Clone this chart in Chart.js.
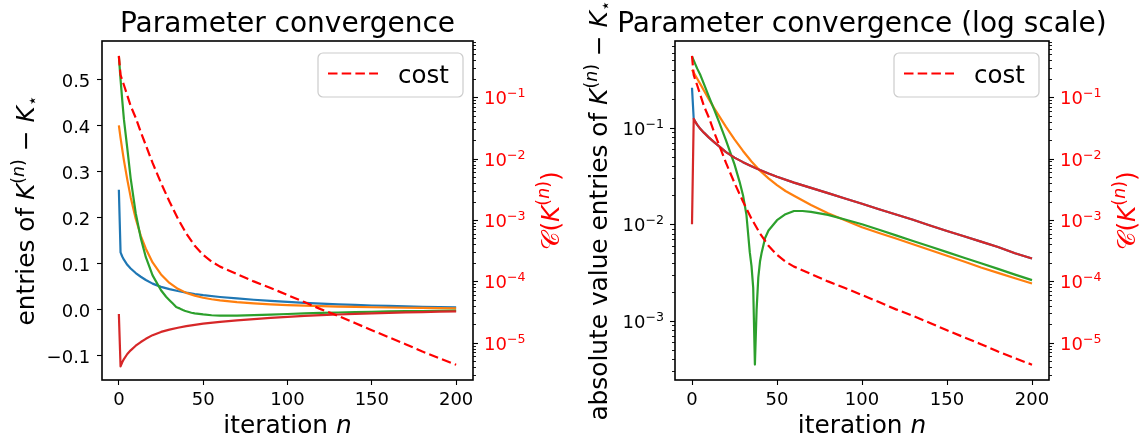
<!DOCTYPE html>
<html><head><meta charset="utf-8">
<script src="https://cdn.jsdelivr.net/npm/chart.js@4/dist/chart.umd.min.js"></script>
<style>
html,body{margin:0;padding:0;background:#fff;}
#wrap{position:relative;width:1145px;height:444px;overflow:hidden;}
canvas{position:absolute;top:0;}
</style></head><body>
<div id="wrap">
<canvas id="c1" width="572" height="444" style="left:0;width:572px;height:444px"></canvas>
<canvas id="c2" width="573" height="444" style="left:572px;width:573px;height:444px"></canvas>
</div>
<script>
// ---------------- data ----------------
const nK = [0,1,2,3,5,7,10,13,16,20,25,30,35,40,45,50,60,70,80,90,100,110,120,130,140,150,160,170,180,190,200];
const blueK = [0.26,0.124,0.115,0.108,0.097,0.089,0.079,0.071,0.064,0.056,0.049,0.044,0.040,0.0365,0.0335,0.031,0.027,0.0238,0.021,0.0185,0.0163,0.0143,0.0126,0.0111,0.0097,0.0085,0.0075,0.0066,0.0058,0.0050,0.0044];
const redK = [-0.010,-0.124,-0.115,-0.108,-0.097,-0.089,-0.079,-0.071,-0.064,-0.056,-0.049,-0.044,-0.040,-0.0365,-0.0335,-0.031,-0.027,-0.0238,-0.021,-0.0185,-0.0163,-0.0143,-0.0126,-0.0111,-0.0097,-0.0085,-0.0075,-0.0066,-0.0058,-0.0050,-0.0044];
const nOrange = [0,1,2,3,5,7,10,13,16,20,25,30,35,40,45,50,55,60,70,80,90,100,110,120,130,140,150,160,170,180,190,200];
const orangeK = [0.40,0.373,0.348,0.324,0.282,0.244,0.197,0.160,0.132,0.102,0.0759,0.0575,0.0447,0.0359,0.0299,0.0254,0.0221,0.0197,0.0158,0.0130,0.0110,0.0093,0.0081,0.0071,0.0062,0.0054,0.0047,0.0041,0.00355,0.00313,0.00275,0.00243];
const nGreen = [0,1,2,3,5,7,10,13,16,20,25,28,30,32,34,35,36,37,38,39,40,41,43,45,50,55,60,65,70,80,90,100,110,120,130,140,150,160,170,180,190,200];
const greenK = [0.55,0.50,0.455,0.413,0.35,0.285,0.209,0.155,0.1135,0.074,0.0417,0.0275,0.020,0.0126,0.0051,0.0037,0.0022,0.00035,-0.0013,-0.0028,-0.0041,-0.0051,-0.0072,-0.0086,-0.011,-0.0127,-0.0137,-0.0137,-0.0134,-0.0125,-0.0112,-0.0100,-0.00875,-0.00766,-0.0067,-0.00586,-0.00513,-0.00449,-0.00393,-0.00344,-0.0030,-0.00263];
const nCost = [0,1,2,3,5,7,10,13,16,20,25,30,35,40,45,50,55,60,70,80,90,100,110,120,130,140,150,160,170,180,190,200];
const cost = [0.47,0.23,0.19,0.158,0.107,0.072,0.046,0.027,0.0165,0.0085,0.0040,0.0020,0.00105,0.00060,0.00038,0.00027,0.00021,0.000174,0.000132,0.000100,0.000078,0.000060,0.000046,0.000035,0.0000275,0.000021,0.000016,0.0000123,0.0000095,0.0000072,0.0000056,0.0000044];

const xTicks = [0,50,100,150,200];
const linTicks = [-0.1,0,0.1,0.2,0.3,0.4,0.5];
const costTicks = [1e-5,1e-4,1e-3,1e-2,1e-1];
const absTicks = [1e-3,1e-2,1e-1];
const titles = ['Parameter convergence','Parameter convergence (log scale)'];
const legendLabel = 'cost';

// ---------------- styling ----------------
const FF = "'DejaVu Sans'";
const TICK = 18, LABEL = 24.8, TITLE = 28;
const C_BLUE='#1f77b4', C_ORANGE='#ff7f0e', C_GREEN='#2ca02c', C_RED='#d62728', C_COST='#ff0000';
const LW = 2.2, DASH = [9.5,4.2];
Chart.defaults.font.family = FF;
Chart.defaults.color = '#000';

const pts = (ns, vs, f) => ns.map((n,i)=>({x:n, y: f ? f(vs[i]) : vs[i]}));
function ds(data, color, axis, dash){
  return {data, borderColor:color, backgroundColor:color, yAxisID:axis, borderWidth:LW,
    pointRadius:0, tension:0, fill:false, borderDash:dash||[], borderJoinStyle:'round', borderCapStyle:'butt'};
}

function drawRich(ctx, segs, x, y, rot, align, color){
  ctx.save();
  ctx.translate(x,y);
  if (rot) ctx.rotate(-Math.PI/2);
  ctx.textAlign='left'; ctx.textBaseline='alphabetic'; ctx.fillStyle=color;
  const fonts = segs.map(s => (s.it?'italic ':'') + s.sz + 'px ' + FF);
  const ws = segs.map((s,i)=>{ ctx.font=fonts[i]; return ctx.measureText(s.t).width; });
  const tot = ws.reduce((a,b)=>a+b,0);
  let cx = align==='center' ? -tot/2 : (align==='right' ? -tot : 0);
  segs.forEach((s,i)=>{ ctx.font=fonts[i]; ctx.fillText(s.t, cx, s.dy||0); cx+=ws[i]; });
  ctx.restore();
  return tot;
}
const sup = (t,it) => ({t, sz:LABEL*0.7, it, dy:-LABEL*0.42});
function kExpr(){ return [{t:'K',sz:LABEL,it:true}, sup('('), sup('n',true), sup(')'), {t:' \u2212 ',sz:LABEL}, {t:'K',sz:LABEL,it:true}, {t:'\u22c6',sz:LABEL*0.7,dy:LABEL*0.18}]; }
const costLabel = [{t:'\ud835\udc9e',sz:LABEL},{t:'(',sz:LABEL},{t:'K',sz:LABEL,it:true},sup('('),sup('n',true),sup(')'),{t:')',sz:LABEL}];

function minorTicks(min, max){
  const out=[];
  const k0=Math.floor(Math.log10(min)), k1=Math.ceil(Math.log10(max));
  for(let k=k0;k<=k1;k++) for(let m=2;m<=9;m++){ const v=m*Math.pow(10,k); if(v>=min&&v<=max) out.push(v); }
  return out;
}
function drawLogAxis(ctx, scale, area, side, majors, color){
  const x0 = side==='right' ? area.right : area.left, dir = side==='right'?1:-1;
  ctx.save();
  ctx.strokeStyle='#000';
  ctx.lineWidth=0.9;
  minorTicks(scale.min, scale.max).forEach(v=>{
    const y=Math.round(scale.getPixelForValue(v))+0.5;
    ctx.beginPath(); ctx.moveTo(x0,y); ctx.lineTo(x0+dir*3,y); ctx.stroke();
  });
  ctx.lineWidth=1.1;
  majors.forEach(v=>{
    const y=Math.round(scale.getPixelForValue(v))+0.5;
    ctx.beginPath(); ctx.moveTo(x0,y); ctx.lineTo(x0+dir*5,y); ctx.stroke();
    const e = Math.round(Math.log10(v));
    const segs=[{t:'10',sz:TICK},{t:(e<0?'\u2212':'')+Math.abs(e),sz:TICK*0.7,dy:-7}];
    if(side==='right') drawRich(ctx, segs, x0+11, y+6.3, false, 'left', color);
    else drawRich(ctx, segs, x0-11, y+6.3, false, 'right', color);
  });
  ctx.restore();
}
function drawLegend(ctx, area){
  const w=145,h=44,x=area.right-10-w,y=area.top+12,r=5;
  ctx.save();
  ctx.beginPath();
  ctx.moveTo(x+r,y); ctx.lineTo(x+w-r,y); ctx.arcTo(x+w,y,x+w,y+r,r); ctx.lineTo(x+w,y+h-r);
  ctx.arcTo(x+w,y+h,x+w-r,y+h,r); ctx.lineTo(x+r,y+h); ctx.arcTo(x,y+h,x,y+h-r,r);
  ctx.lineTo(x,y+r); ctx.arcTo(x,y,x+r,y,r); ctx.closePath();
  ctx.fillStyle='rgba(255,255,255,0.8)'; ctx.fill();
  ctx.strokeStyle='#cccccc'; ctx.lineWidth=1.2; ctx.stroke();
  ctx.strokeStyle=C_COST; ctx.lineWidth=LW; ctx.setLineDash(DASH);
  ctx.beginPath(); ctx.moveTo(x+10,y+20.5); ctx.lineTo(x+60,y+20.5); ctx.stroke();
  ctx.setLineDash([]);
  ctx.fillStyle='#000'; ctx.font='24.5px '+FF; ctx.textBaseline='alphabetic'; ctx.textAlign='left';
  ctx.fillText(legendLabel, x+80, y+30);
  ctx.restore();
}

function deco(cfg){
  return {
    id:'deco',
    afterDatasetsDraw(chart){
      const ctx=chart.ctx, a=chart.chartArea;
      ctx.save(); ctx.strokeStyle='#000'; ctx.lineWidth=1.6;
      ctx.strokeRect(a.left, a.top, a.right-a.left, a.bottom-a.top);
      ctx.restore();
    },
    afterDraw(chart){
      const ctx=chart.ctx, a=chart.chartArea;
      if (cfg.leftLog) drawLogAxis(ctx, chart.scales.y, a, 'left', absTicks, '#000');
      drawLogAxis(ctx, chart.scales.yc, a, 'right', costTicks, C_COST);
      drawLegend(ctx, a);
      const cx=(a.left+a.right)/2;
      drawRich(ctx, [{t:cfg.title,sz:TITLE}], cx, 31.5, false, 'center', '#000');
      drawRich(ctx, [{t:'iteration ',sz:LABEL},{t:'n',sz:LABEL,it:true}], cx, 433, false, 'center', '#000');
      const cy=(a.top+a.bottom)/2;
      drawRich(ctx, cfg.ylabel, a.left-68, cy, true, 'center', '#000');
      drawRich(ctx, costLabel, a.right+86, cy, true, 'center', C_COST);
    }
  };
}

const gridTicks = {drawOnChartArea:false, drawTicks:true, tickLength:5, tickColor:'#000', tickWidth:1.1};
const xScale = {
  type:'linear', min:-10, max:210,
  afterBuildTicks: s => { s.ticks = xTicks.map(v=>({value:v})); },
  afterFit: s => { s.height = 64; },
  grid: gridTicks,
  border:{display:false},
  ticks:{font:{size:TICK, lineHeight:1.2}, color:'#000', padding:5, maxRotation:0, minRotation:0, autoSkip:false}
};
const costScale = {type:'logarithmic', position:'right', display:false, min:Math.pow(10,-5.606), max:Math.pow(10,-0.085)};

// ---------------- left chart ----------------
new Chart(document.getElementById('c1'), {
  type:'line',
  data:{datasets:[
    ds(pts(nCost,cost), C_COST, 'yc', DASH),
    ds(pts(nK,redK), C_RED, 'y'),
    ds(pts(nGreen,greenK), C_GREEN, 'y'),
    ds(pts(nOrange,orangeK), C_ORANGE, 'y'),
    ds(pts(nK,blueK), C_BLUE, 'y')
  ]},
  options:{
    responsive:false, animation:false, devicePixelRatio:1,
    layout:{padding:{left:0,right:99,top:41,bottom:0}},
    plugins:{legend:{display:false}, tooltip:{enabled:false}},
    scales:{
      x: xScale,
      y:{type:'linear', position:'left', min:-0.1535, max:0.5835,
        afterBuildTicks: s => { s.ticks = linTicks.map(v=>({value:v})); },
        afterFit: s => { s.width = 102; },
        grid: gridTicks,
        border:{display:false},
        ticks:{font:{size:TICK, lineHeight:1.2}, color:'#000', padding:6.7, labelOffset:2.5, autoSkip:false,
          callback: v => (v<0?'\u2212':'') + Math.abs(v).toFixed(1)}},
      yc: costScale
    }
  },
  plugins:[deco({title:titles[0], leftLog:false,
    ylabel:[{t:'entries of ',sz:LABEL}].concat(kExpr())})]
});

// ---------------- right chart ----------------
const ab = v => Math.abs(v);
new Chart(document.getElementById('c2'), {
  type:'line',
  data:{datasets:[
    ds(pts(nCost,cost), C_COST, 'yc', DASH),
    ds(pts(nK,redK,ab), C_RED, 'y'),
    ds(pts(nGreen,greenK,ab), C_GREEN, 'y'),
    ds(pts(nOrange,orangeK,ab), C_ORANGE, 'y'),
    ds(pts(nK,blueK,ab), C_BLUE, 'y')
  ]},
  options:{
    responsive:false, animation:false, devicePixelRatio:1,
    layout:{padding:{left:103,right:96,top:41,bottom:0}},
    plugins:{legend:{display:false}, tooltip:{enabled:false}},
    scales:{
      x: xScale,
      y:{type:'logarithmic', position:'left', display:false, min:Math.pow(10,-3.616), max:Math.pow(10,-0.1)},
      yc: costScale
    }
  },
  plugins:[deco({title:titles[1], leftLog:true,
    ylabel:[{t:'absolute value entries of ',sz:LABEL}].concat(kExpr())})]
});
</script>
</body></html>
